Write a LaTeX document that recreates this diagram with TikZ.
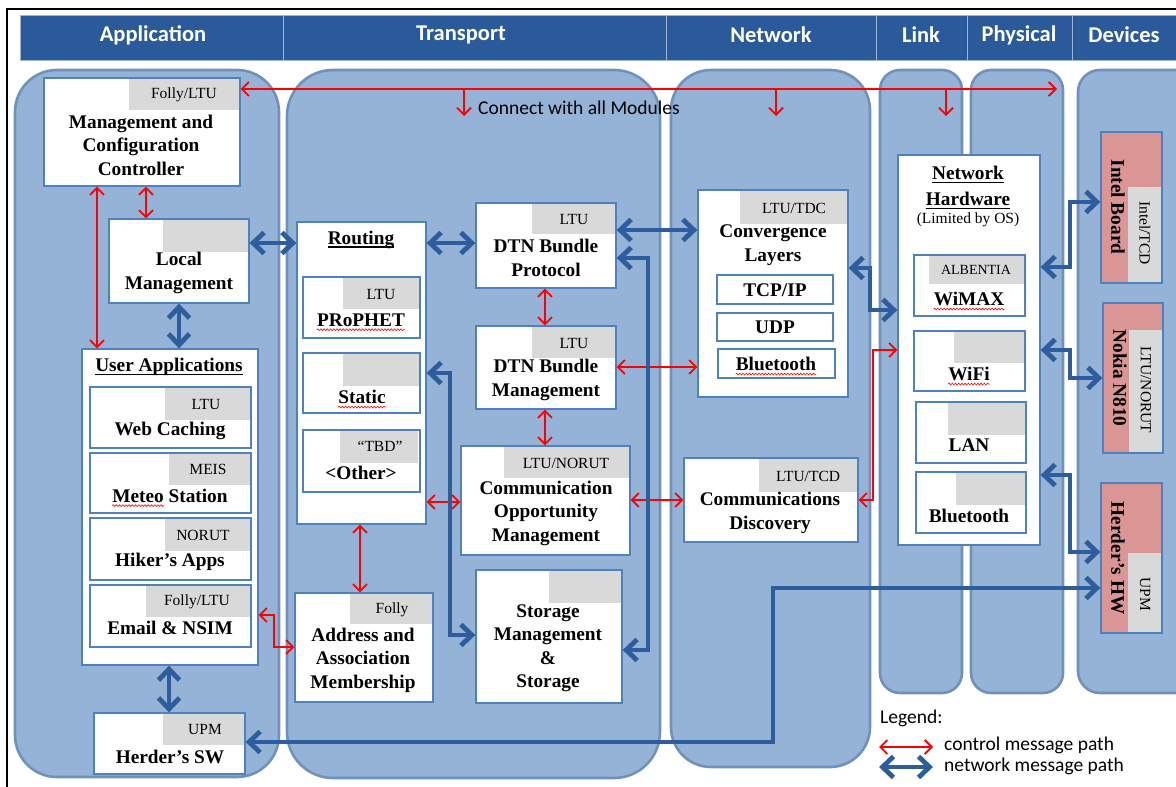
\documentclass[tikz,border=0pt]{standalone}
\usepackage{fontspec}
\setmainfont{Liberation Serif}
\newfontfamily\calibri{Carlito}
\usetikzlibrary{arrows.meta,fit,decorations.pathmorphing}
\definecolor{colfill}{HTML}{95B3D7}
\definecolor{colline}{HTML}{7191BA}
\definecolor{hdr}{HTML}{2A5A99}
\definecolor{hdrline}{HTML}{9DB5D6}
\definecolor{boxline}{HTML}{4F81BD}
\definecolor{tagfill}{HTML}{D9D9D9}
\definecolor{devfill}{HTML}{D99694}
\definecolor{arrblue}{HTML}{2D5D9C}
\tikzset{
  col/.style={fill=colfill, draw=colline, line width=2.6pt},
  hcell/.style={fill=hdr, draw=hdrline, line width=1pt, inner sep=0pt},
  htxt/.style={font=\calibri\bfseries\fontsize{22.5}{26}\selectfont, text=white, inner sep=0pt},
  box/.style={draw=boxline, line width=1.3pt, fill=white, inner sep=0pt},
  devbox/.style={draw=boxline, line width=1.3pt, fill=devfill, inner sep=0pt},
  tagbox/.style={fill=tagfill, inner sep=0pt},
  btxt/.style={font=\bfseries\fontsize{19.3}{23.5}\selectfont, align=center, inner sep=0pt},
  ttxt/.style={font=\fontsize{15.5}{18}\selectfont, inner sep=0pt},
  stxt/.style={font=\calibri\fontsize{19.5}{23}\selectfont, inner sep=0pt, anchor=west},
  ctl/.style={draw=red, line width=1.8pt},
  ctlarr/.style={ctl, arrows={Straight Barb[length=7pt,width=14pt]-Straight Barb[length=7pt,width=14pt]}},
  ctlone/.style={ctl, arrows={-Straight Barb[length=7pt,width=14pt]}},
  net/.style={draw=arrblue, line width=4.8pt, arrows={Straight Barb[length=11pt,width=21pt]-Straight Barb[length=11pt,width=21pt]}},
  wavy/.style={draw=red, line width=0.6pt, decorate, decoration={snake, amplitude=0.9pt, segment length=3.2pt}},
  uline/.style={draw=black, line width=1.2pt},
}
\begin{document}
\begin{tikzpicture}[x=1pt,y=-1pt]
\useasboundingbox (0,0) rectangle (1176,787);
\clip (0,0) rectangle (1176,787);
\fill[white] (0,0) rectangle (1176,787);
% frame
\draw[line width=2.6pt] (7,800) -- (7,9) -- (1200,9);
% header
\node[hcell, fit={(20,15)(283,60)}] (h1) {};
\node[hcell, fit={(283,15)(666,60)}] (h2) {};
\node[hcell, fit={(666,15)(876,60)}] (h3) {};
\node[hcell, fit={(876,15)(967,60)}] (h4) {};
\node[hcell, fit={(967,15)(1072,60)}] (h5) {};
\node[hcell, fit={(1072,15)(1190,60)}] (h6) {};
\node[htxt] (h1t) at (153,35) {Application};
\node[htxt] (h2t) at (461,35) {Transport};
\node[htxt] (h3t) at (771,35) {Network};
\node[htxt] (h4t) at (921,35) {Link};
\node[htxt] (h5t) at (1019,35) {Physical};
\node[htxt] (h6t) at (1124,35) {Devices};
% columns
\draw[col, rounded corners=42pt] (15,70) rectangle (279,777);
\draw[col, rounded corners=46pt] (287,70) rectangle (660,778);
\draw[col, rounded corners=40pt] (671,70) rectangle (870,767);
\draw[col, rounded corners=20pt] (880,70) rectangle (962,693);
\draw[col, rounded corners=20pt] (971,70) rectangle (1063,693);
\draw[col, rounded corners=22pt] (1078,70) rectangle (1200,693);

% ---------------- Application
\node[box, fit={(44,78)(240,186)}] (mcc) {};
\node[tagbox, fit={(129,78.7)(239.3,110)}] (mcctag) {};
\node[ttxt] (mccl) at (184,95) {Folly/LTU};
\node[btxt] (mcct) at (141,145) {Management and\\Configuration\\Controller};

\node[box, fit={(109,219)(249,303)}] (lm) {};
\node[tagbox, fit={(163,219.7)(248.3,252)}] (lmtag) {};
\node[btxt] (lmt) at (179,273) {Local\\Management};

\node[box, fit={(82,349)(258,665)}] (ua) {};
\node[btxt] (uat) at (169,367) {User Applications};
\draw[uline] ([yshift=-2.5pt]uat.base west) -- ([yshift=-2.5pt]uat.base east);

\node[box, fit={(90,387)(251,448)}] (wc) {};
\node[tagbox, fit={(165,387.7)(250.3,420)}] (wctag) {};
\node[ttxt] (wcl) at (206,404) {LTU};
\node[btxt] (wct) at (170,431) {Web Caching};

\node[box, fit={(90,453)(251,513)}] (ms) {};
\node[tagbox, fit={(169,453.7)(250.3,485)}] (mstag) {};
\node[ttxt] (msl) at (208,469) {MEIS};
\node[btxt] (mst) at (170,496) {Meteo Station};
\draw[wavy] ([yshift=-3pt]mst.base west) -- ++(52,0);

\node[box, fit={(90,518)(251,580)}] (ha) {};
\node[tagbox, fit={(165,518.7)(250.3,551)}] (hatag) {};
\node[ttxt] (hal) at (203,535) {NORUT};
\node[btxt] (hat) at (170,562) {Hiker’s Apps};

\node[box, fit={(90,585)(251,647)}] (em) {};
\node[tagbox, fit={(146,585.7)(250.3,617)}] (emtag) {};
\node[ttxt] (eml) at (197,602) {Folly/LTU};
\node[btxt] (emt) at (170,628) {Email \& NSIM};

\node[box, fit={(94,713)(245,774)}] (hsw) {};
\node[tagbox, fit={(163,713.7)(244.3,745)}] (hswtag) {};
\node[ttxt] (hswl) at (205,729) {UPM};
\node[btxt] (hswt) at (170,757) {Herder’s SW};

% ---------------- Transport
\node[box, fit={(297,222)(426,524)}] (rt) {};
\node[btxt] (rtt) at (361,240) {Routing};
\draw[uline] ([yshift=-2.5pt]rtt.base west) -- ([yshift=-2.5pt]rtt.base east);

\node[box, fit={(303,277)(420,338)}] (pr) {};
\node[tagbox, fit={(343,277.7)(419.3,309)}] (prtag) {};
\node[ttxt] (prl) at (381,294) {LTU};
\node[btxt] (prt) at (361,320) {PRoPHET};
\draw[wavy] ([yshift=-3.5pt]prt.base west) -- ([yshift=-3.5pt]prt.base east);

\node[box, fit={(303,353)(420,413)}] (stc) {};
\node[tagbox, fit={(343,353.7)(419.3,386)}] (stctag) {};
\node[btxt] (stct) at (362,397) {Static};
\draw[wavy] ([yshift=-3.5pt]stct.base west) -- ([yshift=-3.5pt]stct.base east);

\node[box, fit={(303,430)(420,492)}] (oth) {};
\node[tagbox, fit={(340,430.7)(418,463)}] (othtag) {};
\node[ttxt] (othl) at (380,446) {“TBD”};
\node[btxt] (otht) at (361,473) {<Other>};

\node[box, fit={(476,203)(616,288)}] (dbp) {};
\node[tagbox, fit={(532,203.7)(615.3,234)}] (dbptag) {};
\node[ttxt] (dbpl) at (574,219) {LTU};
\node[btxt] (dbpt) at (546,258) {DTN Bundle\\Protocol};

\node[box, fit={(476,326)(616,409)}] (dbm) {};
\node[tagbox, fit={(532,326.7)(615.3,358)}] (dbmtag) {};
\node[ttxt] (dbml) at (574,343) {LTU};
\node[btxt] (dbmt) at (546,380) {DTN Bundle\\Management};

\node[box, fit={(461,446)(630,555)}] (com) {};
\node[tagbox, fit={(504,446.7)(629.3,478)}] (comtag) {};
\node[ttxt] (coml) at (566,463) {LTU/NORUT};
\node[btxt] (comt) at (546,513) {Communication\\Opportunity\\Management};

\node[box, fit={(295,593)(433,702)}] (aam) {};
\node[tagbox, fit={(350,593.7)(432.3,624)}] (aamtag) {};
\node[ttxt] (aaml) at (392,610) {Folly};
\node[btxt] (aamt) at (363,660) {Address and\\Association\\Membership};

\node[box, fit={(476,570)(622,703)}] (sto) {};
\node[tagbox, fit={(549,570.7)(621.3,603)}] (stotag) {};
\node[btxt] (stot) at (548,648) {Storage\\Management\\\&\\Storage};

% ---------------- Network
\node[box, fit={(698,190)(848,397)}] (cl) {};
\node[tagbox, fit={(740,190.7)(847.3,224)}] (cltag) {};
\node[ttxt] (cll) at (794,208) {LTU/TDC};
\node[btxt] (clt) at (773,245) {Convergence\\Layers};
\node[box, fit={(717,275)(833,304)}] (tcp) {};
\node[btxt] (tcpt) at (775,290) {TCP/IP};
\node[box, fit={(717,313)(833,341)}] (udp) {};
\node[btxt] (udpt) at (775,327) {UDP};
\node[box, fit={(718,349)(835,378)}] (blt) {};
\node[btxt] (bltt) at (776,364) {Bluetooth};
\draw[wavy] ([yshift=-3.5pt]bltt.base west) -- ([yshift=-3.5pt]bltt.base east);

\node[box, fit={(684,458)(858,542)}] (cd) {};
\node[tagbox, fit={(759,458.7)(857.3,492)}] (cdtag) {};
\node[ttxt] (cdl) at (808,476) {LTU/TCD};
\node[btxt] (cdt) at (770,513) {Communications\\Discovery};

% ---------------- Link / Physical
\node[box, fit={(898,155)(1040,545)}] (nh) {};
\node[btxt] (nht1) at (968,173) {Network};
\node[btxt] (nht2) at (968,199) {Hardware};
\draw[uline] ([yshift=-2.5pt]nht1.base west) -- ([yshift=-2.5pt]nht1.base east);
\draw[uline] ([yshift=-2.5pt]nht2.base west) -- ([yshift=-2.5pt]nht2.base east);
\node[ttxt] (nht3) at (968,220) {(Limited by OS)};

\node[box, fit={(914,255)(1025,316)}] (wmx) {};
\node[tagbox, fit={(929,255.7)(1024.3,284)}] (wmxtag) {};
\node[ttxt, font=\fontsize{14}{16}\selectfont] (wmxl) at (976,270) {ALBENTIA};
\node[btxt] (wmxt) at (969,299) {WiMAX};
\draw[wavy] ([yshift=-3.5pt]wmxt.base west) -- ([yshift=-3.5pt]wmxt.base east);

\node[box, fit={(914,331)(1025,391)}] (wifi) {};
\node[tagbox, fit={(954,331.7)(1024.3,363)}] (wifitag) {};
\node[btxt] (wifit) at (969,374) {WiFi};
\draw[wavy] ([yshift=-3.5pt]wifit.base west) -- ([yshift=-3.5pt]wifit.base east);

\node[box, fit={(916,402)(1026,463)}] (lan) {};
\node[tagbox, fit={(948,402.7)(1025.3,435)}] (lantag) {};
\node[btxt] (lant) at (969,445) {LAN};

\node[box, fit={(916,472)(1026,533)}] (nbt) {};
\node[tagbox, fit={(956,472.7)(1025.3,505)}] (nbttag) {};
\node[btxt] (nbtt) at (969,516) {Bluetooth};

% ---------------- Devices
\node[devbox, fit={(1101,132)(1162,283)}] (ib) {};
\node[tagbox, fit={(1128,187)(1161.3,282.3)}] (ibtag) {};
\node[btxt, rotate=-90] (ibt) at (1118,207) {Intel Board};
\node[ttxt, rotate=-90] (ibl) at (1145,233) {Intel/TCD};

\node[devbox, fit={(1103,303)(1163,453)}] (nk) {};
\node[tagbox, fit={(1129,330)(1162.3,452.3)}] (nktag) {};
\node[btxt, rotate=-90] (nkt) at (1120,378) {Nokia N810};
\node[ttxt, rotate=-90] (nkl) at (1146,390) {LTU/NORUT};

\node[devbox, fit={(1101,483)(1162,633)}] (hhw) {};
\node[tagbox, fit={(1128,553)(1161.3,632.3)}] (hhwtag) {};
\node[btxt, rotate=-90] (hhwt) at (1118,558) {Herder’s HW};
\node[ttxt, rotate=-90] (hhwl) at (1145,594) {UPM};

% ---------------- control (red) arrows
\coordinate (topend) at (1057,89);
\draw[ctlarr] (mcc.east |- 0,89) -- (topend);
\coordinate (d1s) at (464,89); \coordinate (d1e) at (464,116);
\coordinate (d2s) at (776,89); \coordinate (d2e) at (776,116);
\coordinate (d3s) at (946,89); \coordinate (d3e) at (946,116);
\draw[ctlone] (d1s) -- (d1e);
\draw[ctlone] (d2s) -- (d2e);
\draw[ctlone] (d3s) -- (d3e);
\node[stxt] (conn) at (478,108) {Connect with all Modules};

\draw[ctlarr] (97,0 |- mcc.south) -- (97,0 |- ua.north);
\draw[ctlarr] (146,0 |- mcc.south) -- (146,0 |- lm.north);
\draw[ctlarr] (545,0 |- dbp.south) -- (545,0 |- dbm.north);
\draw[ctlarr] (545,0 |- dbm.south) -- (545,0 |- com.north);
\draw[ctlarr] (rt.east |- 0,502) -- (com.west |- 0,502);
\draw[ctlarr] (360,0 |- rt.south) -- (360,0 |- aam.north);
\draw[ctlarr] (dbm.east |- 0,367) -- (cl.west |- 0,367);
\draw[ctlarr] (com.east |- 0,500) -- (cd.west |- 0,500);
\draw[ctlarr] (nh.west |- 0,350) -| (873,500) -- (cd.east |- 0,500);
\draw[ctlarr] (ua.east |- 0,615) -- (274,615) |- (aam.west |- 0,647);

% ---------------- network (blue) arrows
\draw[net] (lm.east |- 0,243) -- (rt.west |- 0,243);
\draw[net] (179,0 |- lm.south) -- (179,0 |- ua.north);
\draw[net] (169,0 |- ua.south) -- (169,0 |- hsw.north);
\draw[net] (rt.east |- 0,243) -- (dbp.west |- 0,243);
\draw[net] (rt.east |- 0,373) -- (450,373) |- (sto.west |- 0,635);
\draw[net] (dbp.east |- 0,258) -- (648,258) |- (sto.east |- 0,650);
\draw[net] (dbp.east |- 0,230) -- (cl.west |- 0,230);
\draw[net] (cl.east |- 0,268) -- (870,268) |- (nh.west |- 0,310);
\draw[net] (nh.east |- 0,267) -- (1070,267) |- (ib.west |- 0,202);
\draw[net] (nh.east |- 0,350) -- (1070,350) |- (nk.west |- 0,378);
\draw[net] (nh.east |- 0,475) -- (1070,475) |- (hhw.west |- 0,552);
\draw[net] (hhw.west |- 0,588) -| (773,742) -- (hsw.east |- 0,742);

% ---------------- legend
\node[stxt] (leg) at (880,718) {Legend:};
\coordinate (lr1) at (879,747); \coordinate (lr2) at (933,747);
\coordinate (lb1) at (879,767); \coordinate (lb2) at (933,767);
\draw[ctlarr] (lr1) -- (lr2);
\draw[net] (lb1) -- (lb2);
\node[stxt] (legc) at (944,745) {control message path};
\node[stxt] (legn) at (944,766) {network message path};
\end{tikzpicture}
\end{document}
